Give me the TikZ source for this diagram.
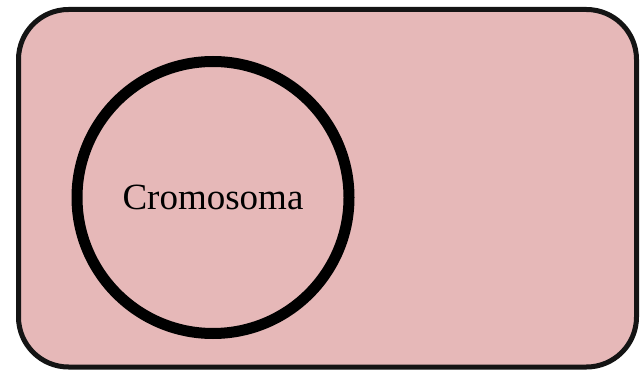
\documentclass[tikz,border=0pt]{standalone}
\usepackage{fontspec}
\setmainfont{Liberation Serif}
\definecolor{cellpink}{RGB}{230,184,184}
\definecolor{edgeblack}{RGB}{20,20,20}
\begin{document}
\begin{tikzpicture}[x=1pt,y=1pt,
  cellbox/.style={draw=edgeblack,line width=5pt,fill=cellpink,rounded corners=50pt},
  chromo/.style={circle,draw=black,line width=11pt,minimum size=272pt,inner sep=0pt,font=\fontsize{37}{40}\selectfont}]
\useasboundingbox (0,0) rectangle (640,370);
\draw[cellbox] (18.5,3) rectangle (636.5,360.5);
\node[chromo] (c) at (213,172.5) {Cromosoma};
\end{tikzpicture}
\end{document}
